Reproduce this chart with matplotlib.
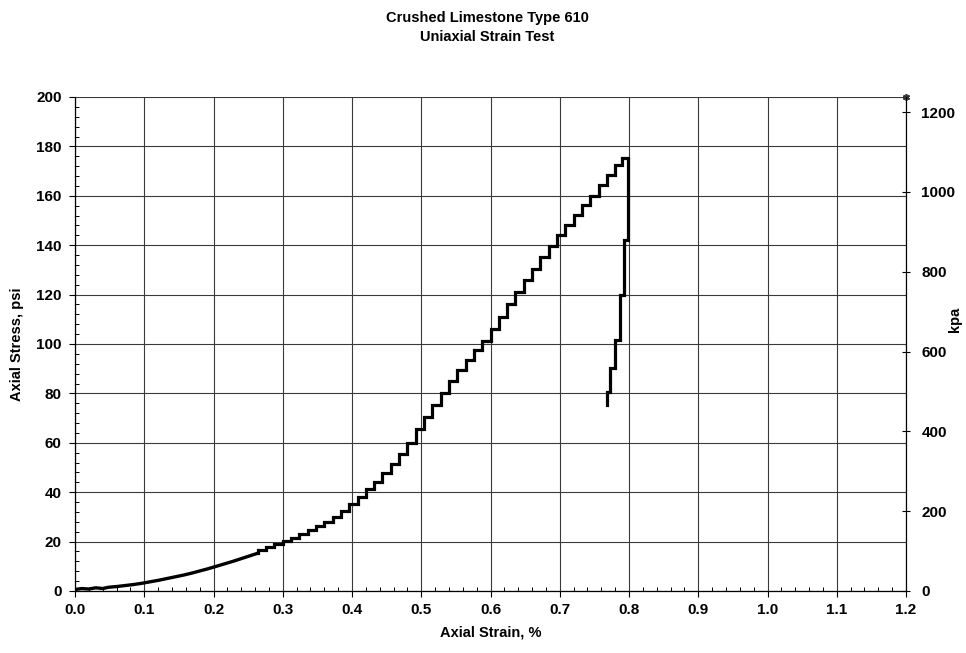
import matplotlib
matplotlib.use("Agg")
import matplotlib.pyplot as plt
from matplotlib.ticker import MultipleLocator

plt.rcParams['font.family'] = ['Liberation Sans', 'DejaVu Sans']

title_lines = ["Crushed Limestone Type 610", "Uniaxial Strain Test"]
x_label = "Axial Strain, %"
y_label = "Axial Stress, psi"
y2_label = "kpa"

# early loading path (nearly smooth)
strain_early = [0.000, 0.010, 0.020, 0.030, 0.040, 0.048, 0.060, 0.072, 0.084, 0.096, 0.108,
                0.120, 0.132, 0.144, 0.156, 0.168, 0.180, 0.192, 0.204, 0.216, 0.228,
                0.240, 0.252, 0.264]
stress_early = [0.6, 1.0, 0.8, 1.3, 1.0, 1.5, 1.8, 2.2, 2.6, 3.1, 3.7,
                4.3, 5.0, 5.7, 6.4, 7.2, 8.1, 9.0, 10.0, 11.0, 12.0,
                13.1, 14.2, 15.3]
# later loading path (step corners)
strain_load = [0.264, 0.276, 0.288, 0.300, 0.312, 0.324, 0.336, 0.348,
               0.360, 0.372, 0.384, 0.396, 0.408, 0.420, 0.432, 0.444, 0.456, 0.468,
               0.480, 0.492, 0.504, 0.516, 0.528, 0.540, 0.552, 0.564, 0.576, 0.588,
               0.600, 0.612, 0.624, 0.636, 0.648, 0.660, 0.672, 0.684, 0.696, 0.708,
               0.720, 0.732, 0.744, 0.756, 0.768, 0.780, 0.790, 0.799]
stress_load = [15.3, 16.5, 17.7, 19.0, 20.3, 21.6, 23.0, 24.5,
               26.2, 28.0, 30.0, 32.5, 35.3, 38.2, 41.2, 44.3, 47.6, 51.3,
               55.5, 60.0, 65.5, 70.5, 75.5, 80.3, 85.0, 89.5, 93.5, 97.5,
               101.2, 106.0, 111.0, 116.0, 121.0, 125.8, 130.5, 135.2, 139.8, 144.0,
               148.2, 152.3, 156.2, 160.0, 164.2, 168.5, 172.5, 175.3]
# unloading path (step corners)
strain_unload = [0.793, 0.787, 0.780, 0.773, 0.768, 0.768]
stress_unload = [142.0, 120.0, 101.6, 90.3, 80.7, 75.3]
# stray marker at top-right corner
stray_strain = [1.2]
stray_stress = [200]

x_ticks = [0.0, 0.1, 0.2, 0.3, 0.4, 0.5, 0.6, 0.7, 0.8, 0.9, 1.0, 1.1, 1.2]
y_ticks = [0, 20, 40, 60, 80, 100, 120, 140, 160, 180, 200]
y2_ticks = [0, 200, 400, 600, 800, 1000, 1200]

fig = plt.figure(figsize=(9.66, 6.53), dpi=100)
ax = fig.add_axes([75/966, 1-591/653, (906-75)/966, (591-97)/653])

ax.plot(strain_early, stress_early, color='black', lw=2.4, solid_joinstyle='round',
        solid_capstyle='round')
ax.plot(strain_load + strain_unload, stress_load + stress_unload, color='black', lw=2.3,
        drawstyle='steps-pre', solid_joinstyle='miter')
ax.plot(stray_strain, stray_stress, linestyle='none', marker=(6, 2, 0), ms=5,
        color='#333333', mew=1.2, clip_on=False)

ax.set_xlim(0, 1.2)
ax.set_ylim(0, 200)
ax.set_xticks(x_ticks)
ax.set_xticklabels([f"{v:.1f}" for v in x_ticks])
ax.set_yticks(y_ticks)
ax.xaxis.set_minor_locator(MultipleLocator(0.02))
ax.yaxis.set_minor_locator(MultipleLocator(4))
ax.grid(True, which='major', color='#3a3a3a', lw=0.8)
ax.tick_params(axis='both', which='major', direction='out', length=4, width=0.8,
               labelsize=11)
ax.tick_params(axis='both', which='minor', direction='in', length=3, width=0.7)
for lab in ax.get_xticklabels() + ax.get_yticklabels():
    lab.set_fontweight('bold')
ax.tick_params(axis='x', pad=5)
ax.tick_params(axis='y', pad=5.5)
ax.spines['top'].set_visible(False)
ax.spines['left'].set_linewidth(0.9)
ax.spines['bottom'].set_linewidth(0.9)
ax.spines['right'].set_linewidth(0.8)

ax.set_xlabel(x_label, fontsize=10.5, fontweight='bold', labelpad=6)

ax2 = ax.twinx()
ax2.set_ylim(0, 1238)
ax2.set_yticks(y2_ticks)
ax2.tick_params(axis='y', direction='inout', length=6, width=0.8, labelsize=11, pad=8)
for lab in ax2.get_yticklabels():
    lab.set_fontweight('bold')
for s in ['top', 'left', 'bottom']:
    ax2.spines[s].set_visible(False)
ax2.spines['right'].set_linewidth(0.8)

fig.text(17/966, 1-344/653, y_label, rotation=90, ha='center', va='center',
         fontsize=10.5, fontweight='bold')
fig.text(955/966, 1-319/653, y2_label, rotation=90, ha='center', va='center',
         fontsize=10.5, fontweight='bold')

fig.text(487/966, 1-18/653, title_lines[0], ha='center', va='center',
         fontsize=10.5, fontweight='bold')
fig.text(487/966, 1-37/653, title_lines[1], ha='center', va='center',
         fontsize=10.5, fontweight='bold')

fig.savefig("out.png", dpi=100)
